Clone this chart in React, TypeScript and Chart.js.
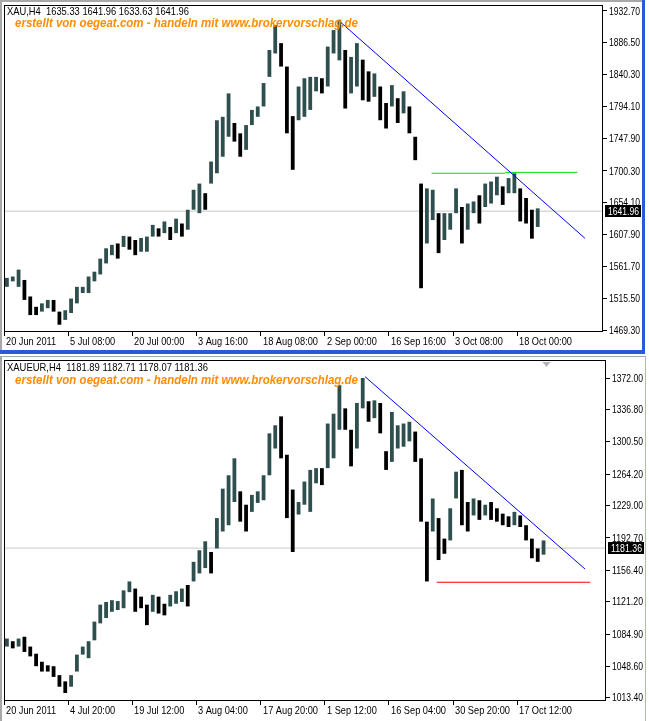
import React, { useEffect, useRef } from 'react';
import { Chart, registerables } from 'chart.js';
Chart.register(...registerables);

// ---------- XAU,H4 (top) ----------
const xauLow = [
  1532, 1540, 1532, 1513, 1491, 1491, 1496, 1501, 1496, 1477,
  1484, 1494, 1508, 1523, 1523, 1540, 1550, 1566, 1578, 1573,
  1590, 1586, 1578, 1583, 1583, 1605, 1605, 1610, 1600, 1610,
  1605, 1615, 1644, 1639, 1644, 1682, 1697, 1721, 1750, 1743,
  1721, 1731, 1767, 1779, 1794, 1837, 1871, 1852, 1755, 1702,
  1774, 1779, 1789, 1816, 1813, 1823, 1871, 1861, 1791, 1813,
  1823, 1803, 1801, 1808, 1774, 1762, 1794, 1770, 1784, 1755,
  1716, 1530, 1595, 1629, 1581, 1600, 1615, 1639, 1595, 1615,
  1639, 1624, 1648, 1653, 1665, 1651, 1668, 1668, 1627, 1624,
  1602, 1619,
];
const xauHigh = [
  1545, 1547, 1557, 1542, 1518, 1503, 1508, 1513, 1513, 1496,
  1498, 1515, 1532, 1532, 1547, 1554, 1573, 1588, 1593, 1595,
  1606, 1605, 1600, 1603, 1605, 1622, 1617, 1627, 1619, 1631,
  1624, 1644, 1673, 1682, 1668, 1714, 1774, 1779, 1813, 1770,
  1755, 1767, 1789, 1794, 1828, 1876, 1912, 1886, 1852, 1780,
  1823, 1835, 1837, 1837, 1835, 1881, 1905, 1920, 1876, 1866,
  1886, 1862, 1845, 1842, 1823, 1799, 1825, 1806, 1816, 1794,
  1750, 1682, 1675, 1673, 1639, 1639, 1639, 1675, 1648, 1653,
  1656, 1665, 1682, 1685, 1692, 1678, 1690, 1697, 1675, 1661,
  1644, 1646,
];
const xauDateLabels = ['20 Jun 2011', '5 Jul 08:00', '20 Jul 00:00', '3 Aug 16:00', '18 Aug 08:00', '2 Sep 00:00', '16 Sep 16:00', '3 Oct 08:00', '18 Oct 00:00'];
const xauPriceTicks = [1469.30, 1515.50, 1561.70, 1607.90, 1654.10, 1700.30, 1747.90, 1794.10, 1840.30, 1886.50, 1932.70];
const xauLast = 1641.96;
const xauTitle = 'XAU,H4  1635.33 1641.96 1633.63 1641.96';
const xauTrendX = [57.6, 99.6];
const xauTrendY = [1917.2, 1602.5];
const xauLevel1X = [73.3, 85.9];
const xauLevel1Y = [1697.0, 1697.0];
const xauLevel2X = [85.9, 98.3];
const xauLevel2Y = [1698.3, 1698.3];

// ---------- XAUEUR,H4 (bottom) ----------
const xeLow = [
  1071, 1069, 1071, 1065, 1060, 1049, 1043, 1043, 1037, 1026,
  1019, 1026, 1043, 1062, 1058, 1078, 1097, 1103, 1110, 1112,
  1114, 1132, 1110, 1114, 1095, 1110, 1108, 1106, 1116, 1119,
  1121, 1116, 1144, 1153, 1159, 1153, 1181, 1200, 1207, 1233,
  1211, 1200, 1222, 1232, 1235, 1263, 1293, 1282, 1215, 1177,
  1219, 1230, 1222, 1254, 1252, 1271, 1282, 1314, 1314, 1273,
  1293, 1338, 1323, 1327, 1310, 1269, 1278, 1293, 1295, 1301,
  1278, 1211, 1144, 1200, 1168, 1175, 1190, 1237, 1207, 1200,
  1218, 1213, 1218, 1213, 1211, 1207, 1205, 1207, 1205, 1190,
  1170, 1166, 1174,
];
const xeHigh = [
  1080, 1077, 1080, 1082, 1071, 1063, 1054, 1050, 1049, 1039,
  1032, 1039, 1062, 1071, 1077, 1099, 1118, 1121, 1123, 1122,
  1134, 1144, 1136, 1127, 1118, 1129, 1127, 1119, 1129, 1133,
  1136, 1140, 1166, 1179, 1189, 1177, 1215, 1248, 1263, 1282,
  1245, 1230, 1241, 1245, 1263, 1310, 1319, 1329, 1286, 1247,
  1233, 1256, 1269, 1271, 1271, 1321, 1332, 1364, 1338, 1314,
  1344, 1372, 1346, 1347, 1344, 1290, 1334, 1319, 1321, 1323,
  1312, 1282, 1211, 1237, 1215, 1192, 1226, 1267, 1269, 1233,
  1237, 1235, 1230, 1233, 1226, 1220, 1217, 1222, 1218, 1207,
  1192, 1181, 1190,
];
const xeDateLabels = ['20 Jun 2011', '4 Jul 20:00', '19 Jul 12:00', '3 Aug 04:00', '17 Aug 20:00', '1 Sep 12:00', '16 Sep 04:00', '30 Sep 20:00', '17 Oct 12:00'];
const xePriceTicks = [1013.40, 1048.60, 1084.90, 1121.20, 1156.40, 1192.70, 1229.00, 1264.20, 1300.50, 1336.80, 1372.00];
const xeLast = 1181.36;
const xeTitle = 'XAUEUR,H4  1181.89 1182.71 1178.07 1181.36';
const xeTrendX = [61.9, 99.6];
const xeTrendY = [1373.5, 1158.0];
const xeSupportX = [74.2, 100.5];
const xeSupportY = [1143.1, 1143.1];

const subText = 'erstellt von oegeat.com - handeln mit www.brokervorschlag.de';
const BARS_PER_LABEL = 11;
const FONT_FAMILY = "'Liberation Sans', Arial, sans-serif";

type Line = { x: number[]; y: number[]; color: string };
type PanelProps = {
  width: number; height: number;
  low: number[]; high: number[];
  dateLabels: string[]; priceTicks: number[];
  yMin: number; yMax: number; xMax: number;
  last: number; title: string; lines: Line[];
  yAxisW: number; xAxisH: number; padTop: number;
  titleY: number; titleW: number; subY: number; subW: number;
  shiftMark: boolean;
};

function fitText(ctx: CanvasRenderingContext2D, text: string, x: number, y: number, w: number) {
  const m = ctx.measureText(text).width;
  ctx.save();
  ctx.translate(x, y);
  ctx.scale(w / m, 1);
  ctx.fillText(text, 0, 0);
  ctx.restore();
}

function narrowText(ctx: CanvasRenderingContext2D, text: string, x: number, y: number, sx: number) {
  ctx.save();
  ctx.translate(x, y);
  ctx.scale(sx, 1);
  ctx.fillText(text, 0, 0);
  ctx.restore();
}

function Panel(p: PanelProps) {
  const ref = useRef<HTMLCanvasElement>(null);
  useEffect(() => {
    if (!ref.current) return;
    const bars = p.low.map((l, i) => ({ x: i + 0.5, y: [l, p.high[i]] }));
    const colors = p.low.map((l, i) => {
      const m = (l + p.high[i]) / 2;
      const pm = i > 0 ? (p.low[i - 1] + p.high[i - 1]) / 2 : m;
      return m >= pm ? '#2f4f4f' : '#000000';
    });
    const lineSets: any[] = p.lines.map((ln) => ({
      type: 'line',
      data: ln.x.map((x, k) => ({ x, y: ln.y[k] })),
      borderColor: ln.color,
      borderWidth: 1,
      pointRadius: 0,
      fill: false,
      tension: 0,
      order: 0,
    }));
    const decor = {
      id: 'decor',
      afterDraw(chart: any) {
        const ctx: CanvasRenderingContext2D = chart.ctx;
        const a = chart.chartArea;
        const ys = chart.scales.y;
        const xs = chart.scales.x;
        ctx.save();
        ctx.strokeStyle = '#000';
        ctx.lineWidth = 1;
        ctx.strokeRect(Math.round(a.left) + 0.5, Math.round(a.top) + 0.5, Math.round(a.right - a.left) - 1, Math.round(a.bottom - a.top) - 1);
        ctx.fillStyle = '#000';
        ctx.font = `11px ${FONT_FAMILY}`;
        ctx.textBaseline = 'middle';
        ctx.textAlign = 'left';
        // price axis labels (narrow)
        p.priceTicks.forEach((v) => {
          const ty = ys.getPixelForValue(v);
          fitText(ctx, v.toFixed(2), Math.round(a.right) + 6, ty + 0.5, 31);
        });
        // time axis labels (narrow)
        p.dateLabels.forEach((lab, k) => {
          const tx = xs.getPixelForValue(k * BARS_PER_LABEL);
          narrowText(ctx, lab, Math.round(tx) + 2, Math.round(a.bottom) + 10, 0.84);
        });
        // current price box
        const py = Math.round(ys.getPixelForValue(p.last));
        ctx.fillStyle = '#000';
        ctx.fillRect(Math.round(a.right) + 2, py - 6, chart.width - Math.round(a.right) - 3, 12);
        ctx.fillStyle = '#fff';
        fitText(ctx, p.last.toFixed(2), Math.round(a.right) + 5, py + 0.5, 31);
        // shift marker
        if (p.shiftMark) {
          const sx = xs.getPixelForValue(p.low.length);
          ctx.fillStyle = '#b4b4b4';
          ctx.beginPath();
          ctx.moveTo(sx - 4, a.top + 2);
          ctx.lineTo(sx + 4, a.top + 2);
          ctx.lineTo(sx, a.top + 7);
          ctx.closePath();
          ctx.fill();
        }
        // titles
        ctx.fillStyle = '#000';
        ctx.font = `11px ${FONT_FAMILY}`;
        fitText(ctx, p.title, 7, p.titleY, p.titleW);
        ctx.fillStyle = '#ff8c00';
        ctx.font = "italic bold 12px 'Liberation Sans', Arial, sans-serif";
        fitText(ctx, subText, 15, p.subY, p.subW);
        ctx.restore();
      },
    };
    const chart = new Chart(ref.current, {
      type: 'bar',
      data: {
        datasets: [
          ...lineSets,
          {
            type: 'bar',
            data: bars as any,
            backgroundColor: colors,
            borderWidth: 0,
            barPercentage: 0.65,
            categoryPercentage: 1,
            order: 1,
          } as any,
          {
            type: 'line',
            data: [{ x: 0, y: p.last }, { x: p.xMax, y: p.last }],
            borderColor: '#c8c8c8',
            borderWidth: 1,
            pointRadius: 0,
            order: 2,
          } as any,
        ],
      },
      options: {
        animation: false,
        responsive: false,
        events: [],
        layout: { padding: { left: 4, top: p.padTop, right: 0, bottom: 0 } },
        plugins: { legend: { display: false }, tooltip: { enabled: false } },
        scales: {
          x: {
            type: 'linear',
            offset: false,
            min: 0,
            max: p.xMax,
            afterBuildTicks: (s: any) => {
              s.ticks = p.dateLabels.map((_, k) => ({ value: k * BARS_PER_LABEL }));
            },
            afterFit: (s: any) => {
              s.height = p.xAxisH;
              s.paddingLeft = 0;
              s.paddingRight = 0;
            },
            ticks: { display: false },
            grid: { drawOnChartArea: false, drawTicks: true, tickLength: 4, color: '#000', offset: false },
            border: { display: false },
          } as any,
          y: {
            type: 'linear',
            position: 'right',
            min: p.yMin,
            max: p.yMax,
            afterBuildTicks: (s: any) => {
              s.ticks = p.priceTicks.map((v) => ({ value: v }));
            },
            afterFit: (s: any) => {
              s.width = p.yAxisW;
              s.paddingTop = 0;
              s.paddingBottom = 0;
            },
            ticks: { display: false },
            grid: { drawOnChartArea: false, drawTicks: true, tickLength: 4, color: '#000' },
            border: { display: false },
          } as any,
        },
      },
      plugins: [decor as any],
    });
    return () => chart.destroy();
  }, []);
  return <canvas ref={ref} width={p.width} height={p.height} style={{ width: p.width, height: p.height, display: 'block' }} />;
}

export default function App() {
  return (
    <div style={{ position: 'fixed', left: 0, top: 0, width: 649, height: 721, background: '#fff', overflow: 'hidden' }}>
      <div style={{ position: 'absolute', left: 0, top: 0 }}>
        <Panel
          width={642} height={350}
          low={xauLow} high={xauHigh}
          dateLabels={xauDateLabels} priceTicks={xauPriceTicks}
          yMin={1466.4} yMax={1941.4} xMax={599 / 5.833}
          last={xauLast} title={xauTitle}
          lines={[
            { x: xauTrendX, y: xauTrendY, color: '#0000ff' },
            { x: xauLevel1X, y: xauLevel1Y, color: '#00e000' },
            { x: xauLevel2X, y: xauLevel2Y, color: '#00e000' },
          ]}
          yAxisW={39} xAxisH={18} padTop={5}
          titleY={12} titleW={182} subY={24} subW={343}
          shiftMark={false}
        />
      </div>
      <div style={{ position: 'absolute', left: 0, top: 355 }}>
        <Panel
          width={645} height={366}
          low={xeLow} high={xeHigh}
          dateLabels={xeDateLabels} priceTicks={xePriceTicks}
          yMin={1010.0} yMax={1392.2} xMax={602 / 5.833}
          last={xeLast} title={xeTitle}
          lines={[
            { x: xeTrendX, y: xeTrendY, color: '#0000ff' },
            { x: xeSupportX, y: xeSupportY, color: '#ff0000' },
          ]}
          yAxisW={39} xAxisH={20} padTop={5}
          titleY={13} titleW={201} subY={26} subW={343}
          shiftMark={true}
        />
      </div>
      {/* window chrome */}
      <div style={{ position: 'absolute', left: 0, top: 0, width: 642, height: 2, background: '#a8a8a8' }} />
      <div style={{ position: 'absolute', left: 0, top: 0, width: 2, height: 350, background: '#a8a8a8' }} />
      <div style={{ position: 'absolute', left: 642, top: 0, width: 3, height: 354, background: '#2a5bd7' }} />
      <div style={{ position: 'absolute', left: 0, top: 350, width: 645, height: 4, background: '#2a5bd7' }} />
      <div style={{ position: 'absolute', left: 0, top: 356, width: 646, height: 1, background: '#a8a8a8' }} />
      <div style={{ position: 'absolute', left: 0, top: 356, width: 2, height: 365, background: '#a8a8a8' }} />
      <div style={{ position: 'absolute', left: 645, top: 356, width: 1, height: 365, background: '#aab4e6' }} />
    </div>
  );
}
